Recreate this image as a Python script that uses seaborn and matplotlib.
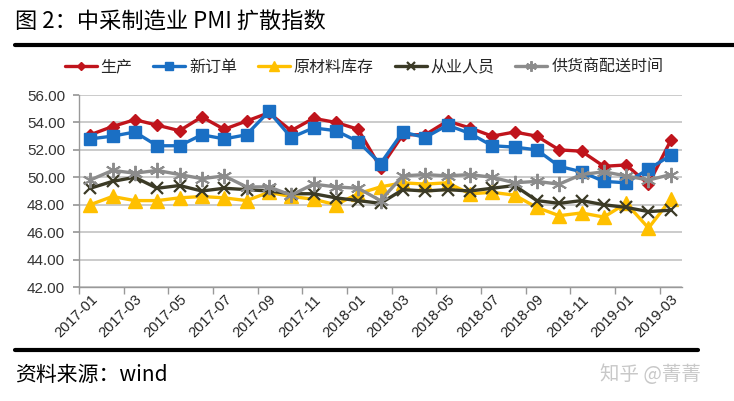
import numpy as np
import pandas as pd
import matplotlib
matplotlib.use("Agg")
import matplotlib.pyplot as plt
import seaborn as sns
from matplotlib.lines import Line2D

months = ["2017-01","2017-02","2017-03","2017-04","2017-05","2017-06","2017-07","2017-08","2017-09","2017-10","2017-11","2017-12",
          "2018-01","2018-02","2018-03","2018-04","2018-05","2018-06","2018-07","2018-08","2018-09","2018-10","2018-11","2018-12",
          "2019-01","2019-02","2019-03"]
production = [53.1,53.7,54.2,53.8,53.4,54.4,53.5,54.1,54.7,53.4,54.3,54.0,53.5,50.7,53.1,53.1,54.1,53.6,53.0,53.3,53.0,52.0,51.9,50.8,50.9,49.5,52.7]
new_orders = [52.8,53.0,53.3,52.3,52.3,53.1,52.8,53.1,54.8,52.9,53.6,53.4,52.6,51.0,53.3,52.9,53.8,53.2,52.3,52.2,52.0,50.8,50.4,49.7,49.6,50.6,51.6]
raw_inventory = [48.0,48.6,48.3,48.3,48.5,48.6,48.5,48.3,48.9,48.6,48.4,48.0,48.8,49.3,49.6,49.5,49.6,48.8,48.9,48.7,47.8,47.2,47.4,47.1,48.1,46.3,48.4]
employment = [49.2,49.7,50.0,49.2,49.4,49.0,49.2,49.1,49.0,48.8,48.8,48.5,48.3,48.1,49.1,49.0,49.1,49.0,49.2,49.4,48.3,48.1,48.3,48.0,47.8,47.5,47.6]
delivery = [49.8,50.5,50.3,50.5,50.2,49.9,50.1,49.3,49.3,48.7,49.5,49.3,49.2,48.3,50.1,50.2,50.1,50.2,50.0,49.6,49.7,49.5,50.2,50.4,50.1,49.8,50.2]

series_names = ["生产", "新订单", "原材料库存", "从业人员", "供货商配送时间"]
series_values = [production, new_orders, raw_inventory, employment, delivery]
y_ticks = [42, 44, 46, 48, 50, 52, 54, 56]

colors = ["#C0141C", "#1A6FC4", "#FFC000", "#3B3A26", "#8C8C8C"]
markers = ["D", "s", "^", "x", (6, 2, 0)]
msizes = [6, 9, 10, 8, 11]
mews = [1, 1, 1, 1.6, 1.4]

sns.set_theme(style="white")
plt.rcParams['font.family'] = ['Noto Sans CJK SC', 'DejaVu Sans']

rows = []
for name, vals in zip(series_names, series_values):
    for i, v in enumerate(vals):
        rows.append({"idx": i, "value": v, "series": name})
df = pd.DataFrame(rows)

fig = plt.figure(figsize=(7.34, 4.01), dpi=100)
ax = fig.add_axes([79/734, 1-287/401, (682-79)/734, (287-95)/401])

handles = []
for name, c, m, ms, mew in zip(series_names, colors, markers, msizes, mews):
    sub = df[df["series"] == name]
    sns.lineplot(data=sub, x="idx", y="value", ax=ax, color=c, linewidth=2.4,
                 marker=m, markersize=ms, markeredgecolor=c, markerfacecolor=c,
                 markeredgewidth=mew, legend=False)
    handles.append(Line2D([0], [0], color=c, lw=2.4, marker=m, markersize=ms*0.7,
                          markeredgecolor=c, markerfacecolor=c, markeredgewidth=mew))

ax.set_xlim(-0.5, len(months) - 0.5)
ax.set_ylim(42, 56)
ax.set_yticks(y_ticks)
ax.set_yticklabels([f"{v:.2f}" for v in y_ticks], fontsize=11, color="#333333",
                   family=['Liberation Sans', 'DejaVu Sans'])
ax.yaxis.grid(True, color="#BDBDBD", linewidth=1.1)
ax.set_axisbelow(True)

xt = list(range(0, len(months), 2))
ax.set_xticks(xt)
ax.set_xticklabels([months[i] for i in xt], rotation=45, ha="right", rotation_mode="anchor",
                   fontsize=10.5, color="#222222", family=['Liberation Sans', 'DejaVu Sans'])
ax.tick_params(axis="x", length=0, pad=4)
ax.tick_params(axis="y", length=4, color="#999999", left=True, pad=6)
ax.set_xticks([i - 0.5 for i in range(0, len(months) + 1, 2)], minor=True)
ax.tick_params(axis="x", which="minor", length=5, color="#999999", bottom=True)

for s in ["top", "right"]:
    ax.spines[s].set_visible(False)
for s in ["left", "bottom"]:
    ax.spines[s].set_color("#999999")
    ax.spines[s].set_linewidth(1.0)
ax.set_xlabel("")
ax.set_ylabel("")

fig.legend(handles, series_names, loc="center", bbox_to_anchor=(364/734, 1-67/401), ncol=5,
           frameon=False, fontsize=11.5, handlelength=2.0, columnspacing=1.3, handletextpad=0.25)

fig.text(15/734, 1-22/401, "图 2：中采制造业 PMI 扩散指数", fontsize=16, va="center", ha="left", color="black")
fig.add_artist(Line2D([15/734, 1.0], [1-45/401, 1-45/401], color="black", lw=3, transform=fig.transFigure))
fig.add_artist(Line2D([15/734, 698/734], [1-350/401, 1-350/401], color="black", lw=3, transform=fig.transFigure))
fig.text(15/734, 1-375/401, "资料来源：wind", fontsize=15, va="center", ha="left", color="black")
fig.text(600/734, 1-375/401, "知乎 @菁菁", fontsize=14, va="center", ha="left", color="#C8C8C8")

fig.savefig("out.png", dpi=100)
